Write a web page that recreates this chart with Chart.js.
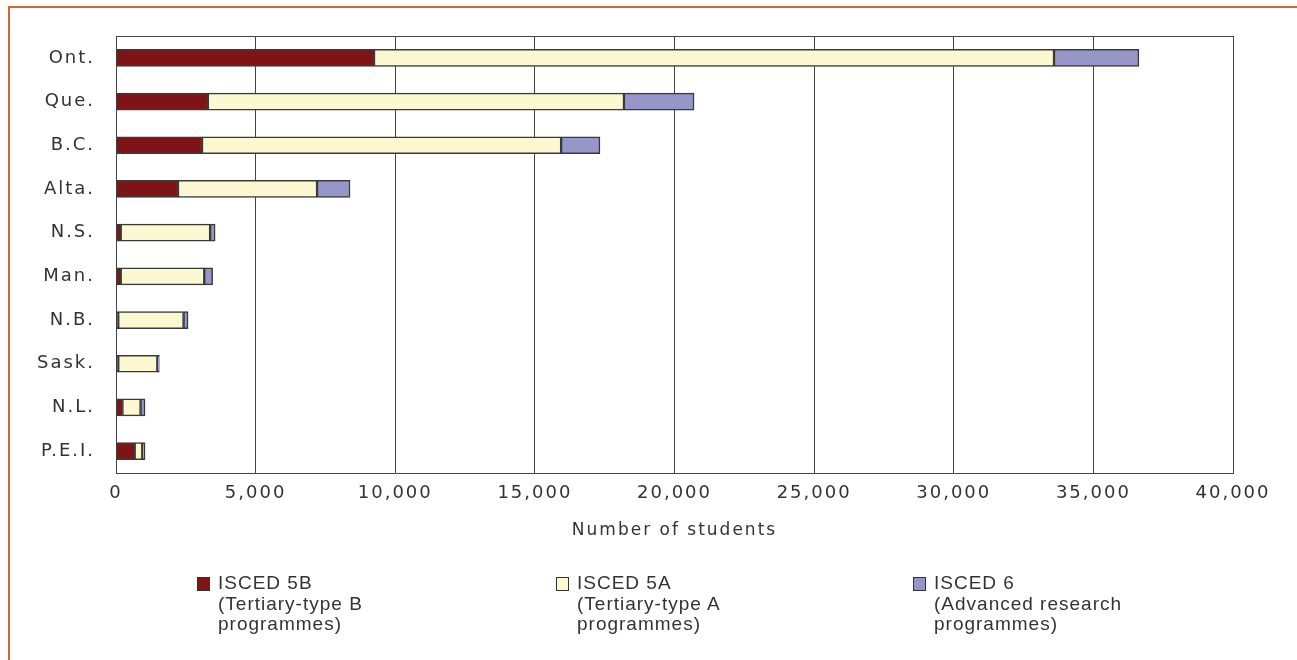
<!DOCTYPE html>
<html>
<head>
<meta charset="utf-8">
<script src="https://cdn.jsdelivr.net/npm/chart.js@4.4.1/dist/chart.umd.min.js"></script>
<style>
  html, body { margin: 0; padding: 0; background: #fff; }
  #wrap { position: relative; width: 1297px; height: 660px; overflow: hidden; }
  #frame { position: absolute; left: 8px; top: 6px; width: 1400px; height: 800px;
           border-left: 2px solid #d4623a; border-top: 2px solid #d4623a; }
  #chartBox { position: absolute; left: 0; top: 0; width: 1297px; height: 660px; }
  .leg { position: absolute; top: 573px; font-family: "Liberation Sans Narrow", "Liberation Sans", sans-serif;
         font-size: 19px; letter-spacing: 1px; line-height: 20.5px; color: #333; }
  .leg .box { position: absolute; left: -21px; top: 4px; width: 11px; height: 12px; border: 1px solid #333; }
</style>
</head>
<body>
<div id="wrap">
  <div id="frame"></div>
  <div id="chartBox"><canvas id="chart"></canvas></div>
  <div class="leg" style="left:218px"><span class="box" style="background:#7f1417"></span>ISCED 5B<br>(Tertiary-type B<br>programmes)</div>
  <div class="leg" style="left:577px"><span class="box" style="background:#fcf9d2"></span>ISCED 5A<br>(Tertiary-type A<br>programmes)</div>
  <div class="leg" style="left:934px"><span class="box" style="background:#9696c9"></span>ISCED 6<br>(Advanced research<br>programmes)</div>
</div>
<script>
// provinces, top to bottom
const provinces = ["Ont.", "Que.", "B.C.", "Alta.", "N.S.", "Man.", "N.B.", "Sask.", "N.L.", "P.E.I."];

// number of students by level
const isced5B = [9240, 3290, 3080, 2220, 170, 170, 80, 80, 230, 670];
const isced5A = [24350, 14900, 12860, 4980, 3200, 2990, 2340, 1400, 650, 270];
const isced6  = [3040, 2510, 1390, 1180, 180, 300, 160, 70, 160, 100];

const xTicks = [0, 5000, 10000, 15000, 20000, 25000, 30000, 35000, 40000];

const spacing = {
  id: 'spacing',
  beforeLayout(chart) { chart.ctx.letterSpacing = '2px'; },
  beforeDraw(chart) { chart.ctx.letterSpacing = '2px'; }
};

// top and right edges of the plot box
const plotBox = {
  id: 'plotBox',
  afterDraw(chart) {
    const { ctx, chartArea: a } = chart;
    ctx.save();
    ctx.strokeStyle = '#444';
    ctx.lineWidth = 1;
    ctx.beginPath();
    ctx.moveTo(a.left, a.top + 0.5);
    ctx.lineTo(a.right + 0.5, a.top + 0.5);
    ctx.lineTo(a.right + 0.5, a.bottom);
    ctx.stroke();
    ctx.restore();
  }
};

const barStyle = { borderColor: '#3a3a3a', borderWidth: 1.5, borderSkipped: false, barThickness: 17 };

new Chart(document.getElementById('chart'), {
  type: 'bar',
  data: {
    labels: provinces,
    datasets: [
      { label: 'ISCED 5B', data: isced5B, backgroundColor: '#7f1417', ...barStyle },
      { label: 'ISCED 5A', data: isced5A, backgroundColor: '#fcf9d2', ...barStyle },
      { label: 'ISCED 6', data: isced6, backgroundColor: '#9696c9', ...barStyle }
    ]
  },
  options: {
    indexAxis: 'y',
    responsive: true,
    maintainAspectRatio: false,
    animation: false,
    layout: { padding: { left: 0, right: 64, top: 36, bottom: 115 } },
    plugins: { legend: { display: false }, tooltip: { enabled: false } },
    scales: {
      x: {
        stacked: true,
        min: 0,
        max: 40000,
        afterBuildTicks: s => { s.ticks = xTicks.map(v => ({ value: v })); },
        afterFit: s => { s.height = 72; },
        grid: { color: '#444', lineWidth: 1, drawTicks: false },
        border: { color: '#444', width: 1 },
        ticks: {
          padding: 10,
          color: '#333',
          font: { family: 'DejaVu Sans', size: 18 },
          maxRotation: 0,
          callback: v => v.toLocaleString('en-US')
        },
        title: {
          display: true,
          text: 'Number of students',
          color: '#333',
          font: { family: 'DejaVu Sans', size: 17 },
          padding: { top: 0, bottom: 4 }
        }
      },
      y: {
        stacked: true,
        afterFit: s => { s.width = 116; },
        grid: { display: false, drawTicks: false },
        border: { color: '#444', width: 1 },
        ticks: {
          padding: 21,
          color: '#333',
          font: { family: 'DejaVu Sans', size: 18 }
        }
      }
    }
  },
  plugins: [spacing, plotBox]
});
</script>
</body>
</html>
